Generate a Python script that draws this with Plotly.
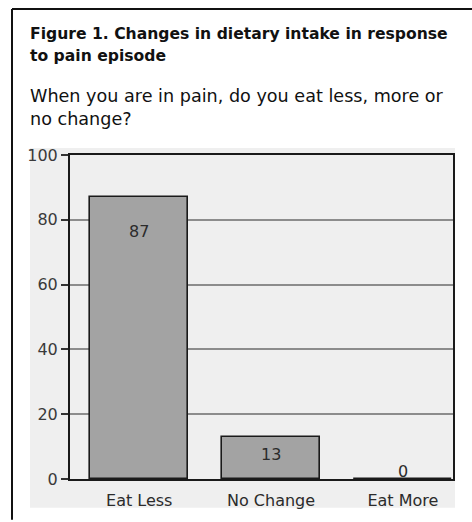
import plotly.graph_objects as go

categories = ["Eat Less", "No Change", "Eat More"]
percent = [87, 13, 0]
y_ticks = [0, 20, 40, 60, 80, 100]

title_lines = ["Figure 1. Changes in dietary intake in response", "to pain episode"]
question_lines = ["When you are in pain, do you eat less, more or", "no change?"]

W, H = 472, 522
L, R, T, B = 70, 19, 155, 41
PW, PH = W - L - R, H - T - B

def px(x):
    return (x - L) / PW

def py(y):
    return (H - B - y) / PH

FONT = "DejaVu Sans"
INK = "#2b2b2b"

fig = go.Figure()
fig.add_trace(go.Bar(
    x=list(range(len(categories))), y=percent,
    width=0.745,
    marker=dict(color="#a3a3a3", line=dict(color="#1a1a1a", width=1.6)),
    hoverinfo="skip",
))

# value labels, anchored to the bar values
label_shift = [-34, -18, 8]
for i, v in enumerate(percent):
    fig.add_annotation(x=i, y=v, text=str(v), showarrow=False, yshift=label_shift[i],
                       font=dict(family=FONT, size=16, color=INK))

annotations_text = [
    (title_lines[0], 33, True), (title_lines[1], 55, True),
    (question_lines[0], 96, False), (question_lines[1], 119, False),
]
for txt, ypix, bold in annotations_text:
    fig.add_annotation(xref="paper", yref="paper", x=px(28), y=py(ypix), xanchor="left",
                       yanchor="middle", showarrow=False,
                       text=f"<b>{txt}</b>" if bold else txt,
                       font=dict(family=FONT, size=15.6 if bold else 17.6, color="#111"))

shapes = [
    # grey panel behind the chart
    dict(type="rect", xref="paper", yref="paper", x0=px(30), x1=px(455), y0=py(510), y1=py(148),
         fillcolor="#efefef", line=dict(width=0), layer="below"),
    # figure frame (left and top rules)
    dict(type="line", xref="paper", yref="paper", x0=px(12), x1=px(12), y0=py(522), y1=py(8),
         line=dict(color="#111", width=2)),
    dict(type="line", xref="paper", yref="paper", x0=px(12), x1=px(472), y0=py(8), y1=py(8),
         line=dict(color="#111", width=2)),
]

fig.update_layout(
    width=W, height=H,
    margin=dict(l=L, r=R, t=T, b=B),
    paper_bgcolor="white", plot_bgcolor="#efefef",
    showlegend=False, shapes=shapes, bargap=0,
    xaxis=dict(range=[-0.525, 2.38], tickvals=list(range(len(categories))), ticktext=categories,
               showline=True, mirror=True, linecolor="#1a1a1a", linewidth=2,
               showgrid=False, zeroline=False, ticks="", ticklabelstandoff=6,
               tickfont=dict(family=FONT, size=16, color=INK), fixedrange=True),
    yaxis=dict(range=[0, 100], tickvals=y_ticks, showline=True, mirror=True,
               linecolor="#1a1a1a", linewidth=2, showgrid=True, gridcolor="#8c8c8c",
               gridwidth=1.5, zeroline=False, ticks="outside", ticklen=7, tickwidth=1.5,
               tickcolor="#333", tickfont=dict(family=FONT, size=16, color="#3a3a3a"),
               fixedrange=True),
)

fig.write_html("out.html")
